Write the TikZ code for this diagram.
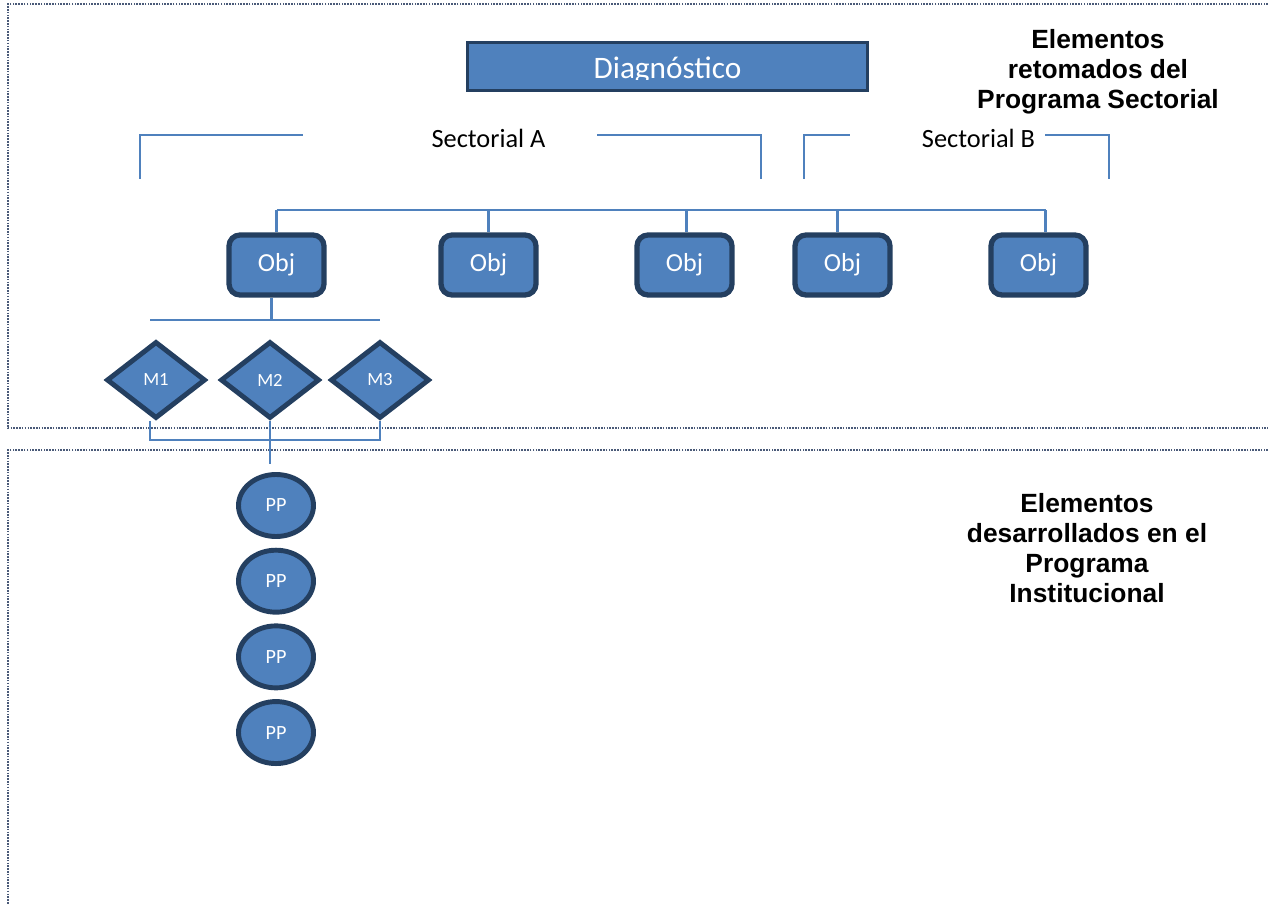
\documentclass[tikz,border=0pt]{standalone}
\usepackage{fontspec}
\setmainfont{Carlito}
\newfontfamily\headfont{Liberation Sans}
\usetikzlibrary{shapes.geometric}

\definecolor{boxfill}{HTML}{4F81BD}
\definecolor{boxline}{HTML}{243F60}
\definecolor{panelline}{HTML}{4A5A78}

\begin{document}
\begin{tikzpicture}[x=0.02cm, y=-0.02cm]
        % Define node styles
        \tikzstyle{diagbox} = [draw=boxline, fill=boxfill, line width=2.2pt, rectangle, minimum width=8cm, minimum height=0.96cm]
        \tikzstyle{objbox} = [draw=boxline, fill=boxfill, line width=3pt, rectangle, rounded corners=0.22cm, minimum width=1.9cm, minimum height=1.2cm, text=white, font=\fontsize{14.8}{16}\selectfont]
        \tikzstyle{metabox} = [draw=boxline, fill=boxfill, line width=2.8pt, diamond, inner sep=0pt, minimum width=1.98cm, minimum height=1.54cm, text=white, font=\fontsize{10.6}{12}\selectfont]
        \tikzstyle{ppbox} = [draw=boxline, fill=boxfill, line width=2.8pt, ellipse, inner sep=0pt, minimum width=1.5cm, minimum height=1.24cm, text=white, font=\fontsize{11.5}{13}\selectfont]
        \tikzstyle{conn} = [draw=boxfill, line width=1.2pt]
        \tikzstyle{panel} = [draw=panelline, line width=0.9pt, dash pattern=on 0.9pt off 0.7pt]
        \tikzstyle{heading} = [font=\headfont\bfseries\fontsize{15}{17}\selectfont, align=center]
        \tikzstyle{sector} = [anchor=base, font=\fontsize{15}{18}\selectfont]

        \useasboundingbox (0,0) rectangle (1268,905);

        % Panels
        \draw[panel] (1268,4) -- (8,4) -- (8,428) -- (1268,428);
        \draw[panel] (1268,450) -- (8,450) -- (8,905);

        % Draw the nodes
        \node[diagbox] (diag) at (667.5,66.5) {};
        \begin{scope}
            \clip (diag.north west) rectangle (diag.east |- 0,79.5);
            \node[anchor=base, text=white, font=\fontsize{17.8}{20}\selectfont] (diagtext) at (667.5,79) {Diagnóstico};
        \end{scope}

        \node[sector] (secA) at (488.5,148) {Sectorial A};
        \node[sector] (secB) at (978.5,148) {Sectorial B};

        \node[objbox] (o1) at (276.5,265) {Obj};
        \node[objbox] (o2) at (488.5,265) {Obj};
        \node[objbox] (o3) at (684.5,265) {Obj};
        \node[objbox] (o4) at (842.5,265) {Obj};
        \node[objbox] (o5) at (1038.5,265) {Obj};

        \node[metabox] (m1) at (156,380) {M1};
        \node[metabox] (m2) at (270,380) {M2};
        \node[metabox] (m3) at (380,380) {M3};

        \node[ppbox] (pp1) at (276,505.5) {PP};
        \node[ppbox, below of=pp1, yshift=-0.514cm] (pp2) {PP};
        \node[ppbox, below of=pp2, yshift=-0.514cm] (pp3) {PP};
        \node[ppbox, below of=pp3, yshift=-0.514cm] (pp4) {PP};

        \node[heading] (ret) at (1098,72) {Elementos\\retomados del\\Programa Sectorial};
        \node[heading] (des) at (1087,548) {Elementos\\desarrollados en el\\Programa\\Institucional};

        % Brackets of the sectors
        \draw[conn] (140,179) -- (140,135) -- (303,135);
        \draw[conn] (597,135) -- (761,135) -- (761,179);
        \draw[conn] (804,179) -- (804,135) -- (850,135);
        \draw[conn] (1045,135) -- (1109,135) -- (1109,179);

        % Lines between the levels
        \coordinate (bus) at (0,210);
        \draw[conn] (o1.north |- bus) -- (o5.north |- bus) -- ++(7,0);
        \draw[conn] (o1.north) -- (o1.north |- bus);
        \draw[conn] (o2.north) -- (o2.north |- bus);
        \draw[conn] (o3.north) ++(2,0) -- ++(0,-22);
        \draw[conn] (o4.north) ++(-5,0) -- ++(0,-22);
        \draw[conn] (o5.north) ++(7,0) -- ++(0,-22);

        \coordinate (mtop) at (0,320);
        \draw[conn] (o1.south) ++(-5,0) -- ++(0,22);
        \draw[conn] (m1.north |- mtop) ++(-6,0) -- (m3.north |- mtop);

        \coordinate (mbot) at (0,440);
        \draw[conn] (m1.south) ++(-6,0) |- (m3.south |- mbot) -- (m3.south);
        \draw[conn] (m2.south) -- ++(0,43);
    \end{tikzpicture}
\end{document}
